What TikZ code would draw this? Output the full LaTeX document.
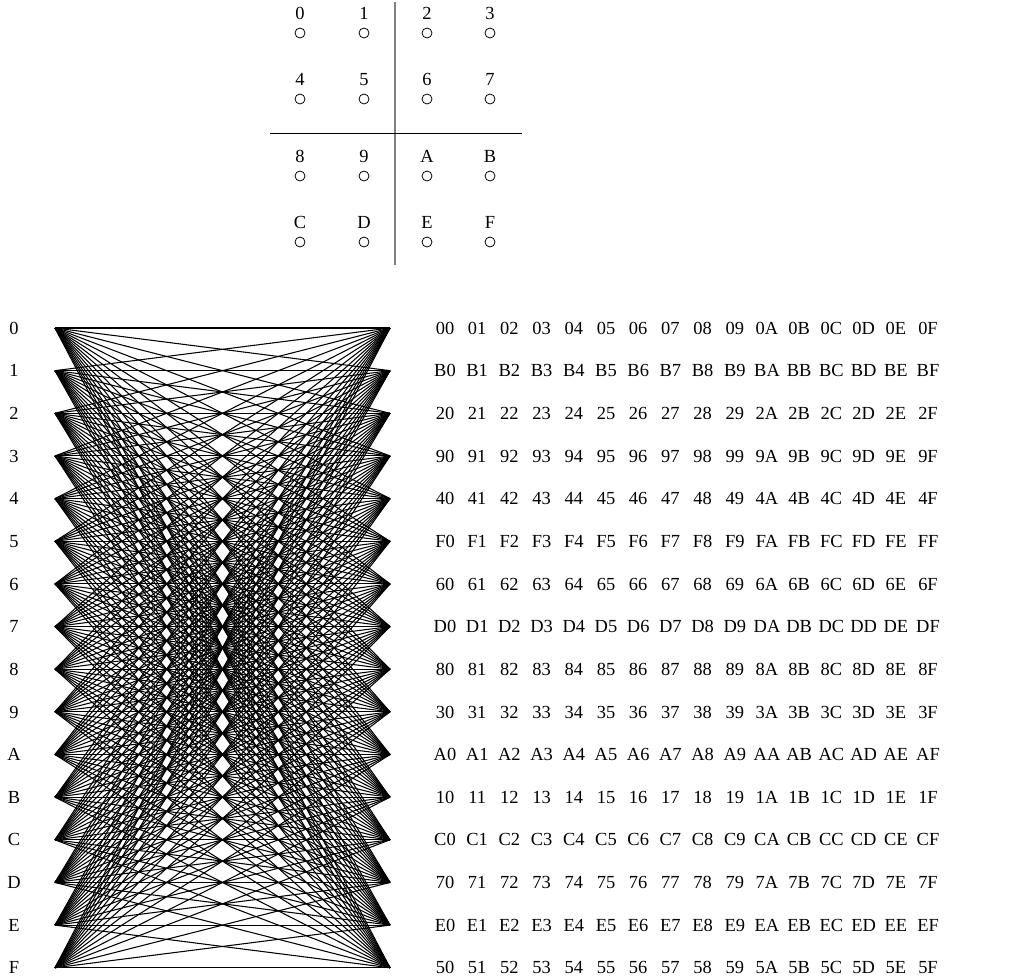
\documentclass[tikz,border=0pt]{standalone}
\usepackage{fontspec}
\setmainfont{Liberation Serif}
\usetikzlibrary{positioning}

\begin{document}
\begin{tikzpicture}[
x=0.02cm, y=-0.02cm,
font=\fontsize{10.5}{12}\selectfont,
hole/.style={circle, draw, line width=0.45pt, minimum size=0.2cm, inner sep=0pt},
wire/.style={line width=0.6pt},
cell/.style={inner sep=0pt, anchor=center, text height=7pt, text depth=0pt}
]
\useasboundingbox (0,0) rectangle (1027,978);

% key layout
\foreach \n [count=\k from 0] in {0,1,2,3,4,5,6,7,8,9,A,B,C,D,E,F} {
  \pgfmathtruncatemacro\col{mod(\k,4)}
  \pgfmathtruncatemacro\row{div(\k,4)}
  \pgfmathsetmacro\xx{{300,364,427,490}[\col]}
  \pgfmathsetmacro\yy{{33,99,176,242}[\row]}
  \node[hole, label={[cell, label distance=8pt]above:\n}] (c\n) at (\xx,\yy) {};
}
\coordinate (vtop) at (395,2);
\coordinate (vbot) at (395,265);
\coordinate (hleft) at (270,133);
\coordinate (hright) at (522,133);
\draw[gray, line width=0.7pt] (vtop) -- (vbot);
\draw[line width=0.55pt] (hleft) -- (hright);

% complete bipartite wiring
\foreach \n [count=\k from 0] in {0,1,2,3,4,5,6,7,8,9,A,B,C,D,E,F} {
  \pgfmathsetmacro\yy{328+42.65*\k}
  \coordinate (L\k) at (55,\yy);
  \coordinate (R\k) at (390,\yy);
  \node[cell] (lab\n) at (14,\yy) {\n};
}
\foreach \i in {0,...,15}
  \foreach \j in {0,...,15}
    \draw[wire] (L\i) -- (R\j);

% code table
\foreach \r [count=\k from 0] in {0,B,2,9,4,F,6,D,8,3,A,1,C,7,E,5} {
  \foreach \c [count=\m from 0] in {0,1,2,3,4,5,6,7,8,9,A,B,C,D,E,F} {
    \node[cell] (t\r\c) at (445+32.2*\m, 328+42.65*\k) {\r\c};
  }
}

\end{tikzpicture}
\end{document}
